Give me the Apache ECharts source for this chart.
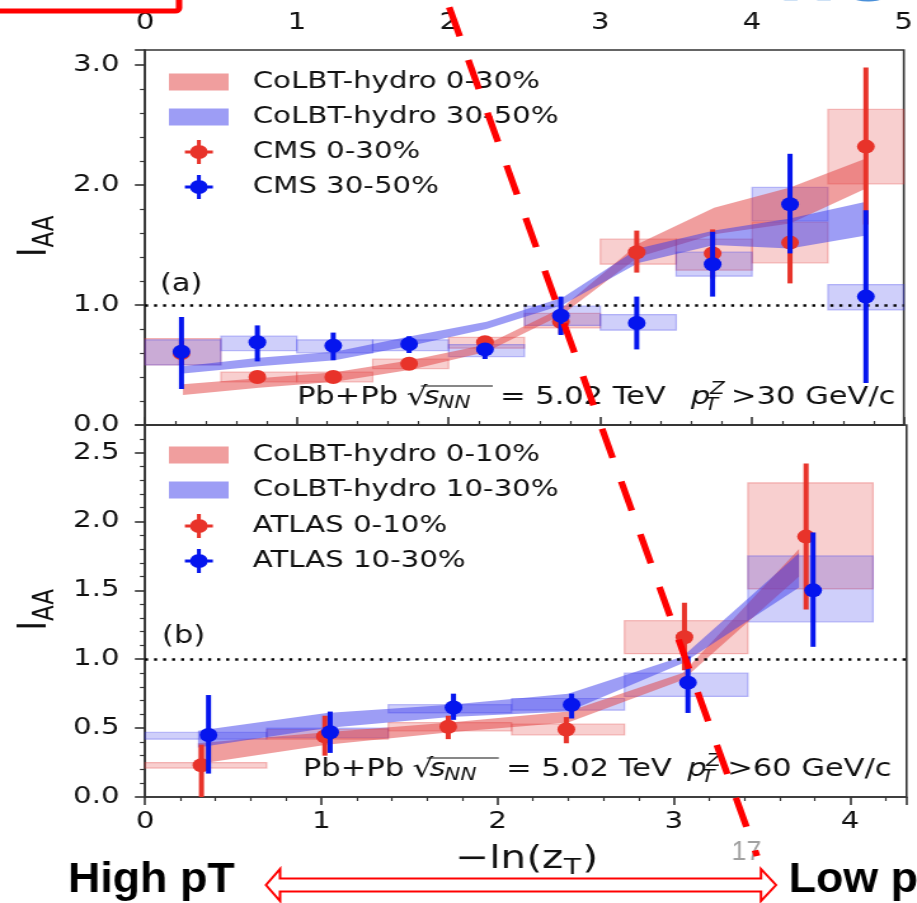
<!DOCTYPE html>
<html>
<head>
<meta charset="utf-8">
<script src="https://cdn.jsdelivr.net/npm/echarts@6.0.0/dist/echarts.min.js"></script>
<style>
  html, body { margin: 0; padding: 0; background: #fff; overflow: hidden; width: 917px; height: 903px; }
  /* the figure is laid out in narrower units and widened as a whole */
  #chart { width: 722px; height: 903px; transform: scaleX(1.27); transform-origin: 0 0; }
</style>
</head>
<body>
<div id="chart"></div>
<script>
// ---------- panel (a): CMS, p_T^Z > 30 GeV/c (x = -ln(z_T)) ----------
const cmsBinEdges = [0, 0.5, 1, 1.5, 2, 2.5, 3, 3.5, 4, 4.5, 5];
const cmsX = [0.24, 0.74, 1.24, 1.74, 2.24, 2.74, 3.24, 3.74, 4.25, 4.75];

const cms030 = [0.60, 0.40, 0.40, 0.51, 0.69, 0.86, 1.44, 1.43, 1.52, 2.32];
const cms030StatLo = [0.50, 0.36, 0.36, 0.47, 0.64, 0.76, 1.27, 1.22, 1.18, 1.67];
const cms030StatHi = [0.70, 0.44, 0.44, 0.55, 0.74, 0.96, 1.62, 1.63, 1.63, 2.98];
const cms030SysLo = [0.50, 0.36, 0.36, 0.47, 0.64, 0.81, 1.34, 1.29, 1.35, 2.01];
const cms030SysHi = [0.72, 0.44, 0.44, 0.55, 0.73, 0.93, 1.55, 1.55, 1.69, 2.63];

const cms3050 = [0.61, 0.69, 0.66, 0.675, 0.63, 0.91, 0.85, 1.34, 1.84, 1.07];
const cms3050StatLo = [0.30, 0.53, 0.54, 0.60, 0.55, 0.75, 0.63, 1.07, 1.43, 0.35];
const cms3050StatHi = [0.90, 0.83, 0.77, 0.74, 0.68, 1.07, 1.07, 1.61, 2.26, 1.79];
const cms3050SysLo = [0.50, 0.62, 0.60, 0.62, 0.57, 0.83, 0.79, 1.24, 1.70, 0.96];
const cms3050SysHi = [0.71, 0.74, 0.71, 0.71, 0.67, 0.99, 0.92, 1.44, 1.98, 1.17];

const colbtXa = [0.25, 0.75, 1.25, 1.75, 2.25, 2.75, 3.25, 3.75, 4.25, 4.75];
const colbt030Lo = [0.25, 0.31, 0.36, 0.46, 0.61, 0.92, 1.40, 1.59, 1.68, 1.97];
const colbt030Hi = [0.34, 0.39, 0.44, 0.54, 0.67, 0.98, 1.51, 1.81, 1.98, 2.22];
const colbt3050Lo = [0.43, 0.49, 0.54, 0.66, 0.80, 1.00, 1.35, 1.50, 1.47, 1.58];
const colbt3050Hi = [0.49, 0.56, 0.61, 0.74, 0.86, 1.06, 1.47, 1.62, 1.72, 1.86];

// ---------- panel (b): ATLAS, p_T^Z > 60 GeV/c ----------
const atlasBinEdges = [0, 0.69, 1.38, 2.08, 2.72, 3.42, 4.13];

const atlasX010 = [0.32, 1.02, 1.72, 2.39, 3.06, 3.75];
const atlas010 = [0.23, 0.44, 0.51, 0.49, 1.16, 1.89];
const atlas010StatLo = [0.00, 0.30, 0.42, 0.39, 0.92, 1.36];
const atlas010StatHi = [0.38, 0.59, 0.59, 0.58, 1.41, 2.42];
const atlas010SysLo = [0.21, 0.42, 0.48, 0.45, 1.04, 1.51];
const atlas010SysHi = [0.25, 0.49, 0.54, 0.53, 1.28, 2.28];

const atlasX1030 = [0.36, 1.05, 1.75, 2.42, 3.08, 3.79];
const atlas1030 = [0.45, 0.47, 0.65, 0.67, 0.83, 1.50];
const atlas1030StatLo = [0.17, 0.32, 0.56, 0.57, 0.61, 1.09];
const atlas1030StatHi = [0.74, 0.62, 0.75, 0.75, 1.02, 1.92];
const atlas1030SysLo = [0.42, 0.43, 0.61, 0.63, 0.73, 1.27];
const atlas1030SysHi = [0.47, 0.50, 0.67, 0.715, 0.90, 1.75];

const colbtXb = [0.30, 1.03, 1.73, 2.40, 3.05, 3.71];
const colbt010Lo = [0.24, 0.38, 0.47, 0.54, 0.85, 1.60];
const colbt010Hi = [0.39, 0.47, 0.54, 0.62, 0.90, 1.80];
const colbt1030Lo = [0.36, 0.50, 0.58, 0.62, 0.97, 1.52];
const colbt1030Hi = [0.48, 0.61, 0.67, 0.75, 1.02, 1.77];

// axis tick labels
const xTicksTop = ['0', '1', '2', '3', '4', '5'];
const xTicksBottom = ['0', '1', '2', '3', '4'];
const yTicksTop = ['0.0', '1.0', '2.0', '3.0'];
const yTicksBottom = ['0.0', '0.5', '1.0', '1.5', '2.0', '2.5'];

// ---------- styling ----------
const FONT = 'DejaVu Sans';
const SLIDE_FONT = '"Liberation Sans Narrow", "Liberation Sans", sans-serif';
const AXIS = '#333';
const INK = '#111';
const RED = '#e8332a';
const BLUE = '#0515ee';
const RED_BAND = 'rgba(226,62,62,0.5)';
const BLUE_BAND = 'rgba(60,60,236,0.5)';
const RED_BOX = 'rgba(226,62,62,0.25)';
const RED_BOX_EDGE = 'rgba(226,62,62,0.32)';
const BLUE_BOX = 'rgba(62,62,236,0.25)';
const BLUE_BOX_EDGE = 'rgba(62,62,236,0.32)';
const ERR_ICON = 'path://M0,10.5H22V13.5H0Z M9.5,0H12.5V24H9.5Z M18,12A7,7,0,1,1,4,12A7,7,0,1,1,18,12Z';

// label only values that sit on a tick step
function tickLabel(labels, step) {
  return v => {
    const k = v / step;
    return Math.abs(k - Math.round(k)) < 1e-6 ? (labels[Math.round(k)] || '') : '';
  };
}

function boxes(name, edges, lo, hi, fill, stroke, axis) {
  return {
    type: 'custom', name, xAxisIndex: axis, yAxisIndex: axis, z: 1, silent: true,
    data: lo.map((v, i) => [edges[i], edges[i + 1], v, hi[i]]),
    encode: { x: [0, 1], y: [2, 3] },
    renderItem(params, api) {
      const a = api.coord([api.value(0), api.value(3)]);
      const b = api.coord([api.value(1), api.value(2)]);
      return {
        type: 'rect',
        shape: { x: a[0], y: a[1], width: b[0] - a[0], height: b[1] - a[1] },
        style: { fill, stroke, lineWidth: 1.2 }
      };
    }
  };
}

function band(name, xs, lo, hi, fill, axis) {
  return {
    type: 'custom', name, xAxisIndex: axis, yAxisIndex: axis, z: 2, silent: true,
    itemStyle: { color: fill },
    data: xs.map((x, i) => [x, lo[i], hi[i]]),
    encode: { x: 0, y: [1, 2] },
    renderItem(params, api) {
      if (params.dataIndex !== 0) return null;
      const pts = [];
      for (let i = 0; i < xs.length; i++) pts.push(api.coord([xs[i], hi[i]]));
      for (let i = xs.length - 1; i >= 0; i--) pts.push(api.coord([xs[i], lo[i]]));
      return { type: 'polygon', shape: { points: pts }, style: { fill } };
    }
  };
}

function errBars(name, xs, lo, hi, color, axis, z) {
  return {
    type: 'custom', name, xAxisIndex: axis, yAxisIndex: axis, z, silent: true,
    data: xs.map((x, i) => [x, lo[i], hi[i]]),
    encode: { x: 0, y: [1, 2] },
    renderItem(params, api) {
      const a = api.coord([api.value(0), api.value(1)]);
      const b = api.coord([api.value(0), api.value(2)]);
      return { type: 'line', shape: { x1: a[0], y1: a[1], x2: b[0], y2: b[1] }, style: { stroke: color, lineWidth: 4 } };
    }
  };
}

function points(name, xs, ys, color, axis, z, withUnityLine) {
  const s = {
    type: 'scatter', name, xAxisIndex: axis, yAxisIndex: axis, z, silent: true,
    symbol: 'circle', symbolSize: 14,
    itemStyle: { color, opacity: 1 },
    data: xs.map((x, i) => [x, ys[i]])
  };
  if (withUnityLine) {
    s.markLine = {
      silent: true, symbol: ['none', 'none'], label: { show: false },
      lineStyle: { color: '#000', width: 2.5, type: [2.4, 4.7] },
      data: [{ yAxis: 1 }]
    };
  }
  return s;
}

const axisLine = { show: true, lineStyle: { color: AXIS, width: 1.6 } };
const axisTick = { show: true, inside: false, length: 8, lineStyle: { color: AXIS, width: 1.6 } };
const minorTick = { show: true, splitNumber: 5, length: 4, lineStyle: { color: AXIS, width: 1.2 } };
const tickFont = { fontFamily: FONT, fontSize: 23, color: INK };

function legendText(pad) {
  return { fontFamily: FONT, fontSize: 23, color: INK, lineHeight: 24, padding: [0, 0, 0, pad] };
}

// small helpers for free text
function txt(x, y, text, extra, scaleX) {
  return {
    type: 'text', x, y, z: 50, silent: true, scaleX: scaleX || 1,
    style: Object.assign({ text, fill: INK, fontFamily: FONT, fontSize: 24, align: 'left', verticalAlign: 'middle' }, extra || {})
  };
}
function energyLabel(y, xs, cut) {
  // xs: positions of the pieces of "Pb+Pb √sNN = 5.02 TeV  pT^Z>cut GeV/c"
  return [
    txt(xs[0], y, 'Pb+Pb'),
    txt(xs[1], y, '√', { fontSize: 26 }),
    txt(xs[2], y, 's', { fontStyle: 'italic' }),
    txt(xs[3], y + 6, 'NN', { fontStyle: 'italic', fontSize: 17 }),
    { type: 'line', z: 50, silent: true, shape: { x1: xs[2] - 2, y1: y - 12, x2: xs[3] + 43, y2: y - 12 }, style: { stroke: INK, lineWidth: 1.2 } },
    txt(xs[4], y, '= 5.02 TeV'),
    txt(xs[5], y, 'p', { fontStyle: 'italic' }),
    txt(xs[6], y + 8, 'T', { fontStyle: 'italic', fontSize: 17 }),
    txt(xs[7], y - 8, 'Z', { fontStyle: 'italic', fontSize: 17 }),
    txt(xs[8], y, '>' + cut + ' GeV/c')
  ];
}
function yTitle(x, y) {
  return {
    type: 'group', x, y, rotation: Math.PI / 2, z: 50, silent: true,
    children: [
      { type: 'text', x: 0, y: 0, style: { text: 'I', fill: INK, fontFamily: FONT, fontSize: 32, align: 'left', verticalAlign: 'middle' } },
      { type: 'text', x: 9.5, y: 8.6, style: { text: 'AA', fill: INK, fontFamily: FONT, fontSize: 23, align: 'left', verticalAlign: 'middle' } }
    ]
  };
}

const chart = echarts.init(document.getElementById('chart'));

const option = {
  animation: false,
  backgroundColor: '#fff',
  grid: [
    { left: 114.2, top: 50, width: 599.6, height: 375, show: true, borderColor: AXIS, borderWidth: 1.6, backgroundColor: 'transparent' },
    { left: 114.2, top: 425, width: 599.6, height: 372, show: true, borderColor: AXIS, borderWidth: 1.6, backgroundColor: 'transparent' }
  ],
  xAxis: [
    {
      gridIndex: 0, type: 'value', position: 'top', min: 0, max: 5, interval: 1,
      axisLine, axisTick, minorTick, splitLine: { show: false },
      axisLabel: Object.assign({ margin: 15, formatter: tickLabel(xTicksTop, 1) }, tickFont)
    },
    {
      gridIndex: 1, type: 'value', position: 'bottom', min: 0, max: 4.32, interval: 1,
      axisLine, axisTick, minorTick, splitLine: { show: false },
      axisLabel: Object.assign({ margin: 14, showMaxLabel: false, formatter: tickLabel(xTicksBottom, 1) }, tickFont)
    }
  ],
  yAxis: [
    {
      gridIndex: 0, type: 'value', min: 0, max: 3.125, interval: 1,
      axisLine, axisTick, minorTick, splitLine: { show: false },
      axisLabel: Object.assign({ margin: 20, formatter: tickLabel(yTicksTop, 1) }, tickFont)
    },
    {
      gridIndex: 1, type: 'value', min: 0, max: 2.7, interval: 0.5,
      axisLine, axisTick, minorTick, splitLine: { show: false },
      axisLabel: Object.assign({ margin: 20, showMaxLabel: false, formatter: tickLabel(yTicksBottom, 0.5) }, tickFont)
    }
  ],
  legend: [
    {
      orient: 'vertical', left: 133, top: 70, itemWidth: 47, itemHeight: 17, itemGap: 11, padding: 0,
      selectedMode: false, textStyle: legendText(14),
      data: [{ name: 'CoLBT-hydro 0-30%', icon: 'rect' }, { name: 'CoLBT-hydro 30-50%', icon: 'rect' }]
    },
    {
      orient: 'vertical', left: 145.6, top: 140, itemWidth: 22, itemHeight: 24, itemGap: 11, padding: 0,
      selectedMode: false, textStyle: legendText(26.4),
      data: [{ name: 'CMS 0-30%', icon: ERR_ICON }, { name: 'CMS 30-50%', icon: ERR_ICON }]
    },
    {
      orient: 'vertical', left: 133, top: 443, itemWidth: 47, itemHeight: 17, itemGap: 11, padding: 0,
      selectedMode: false, textStyle: legendText(14),
      data: [{ name: 'CoLBT-hydro 0-10%', icon: 'rect' }, { name: 'CoLBT-hydro 10-30%', icon: 'rect' }]
    },
    {
      orient: 'vertical', left: 145.6, top: 514, itemWidth: 22, itemHeight: 24, itemGap: 11, padding: 0,
      selectedMode: false, textStyle: legendText(26.4),
      data: [{ name: 'ATLAS 0-10%', icon: ERR_ICON }, { name: 'ATLAS 10-30%', icon: ERR_ICON }]
    }
  ],
  series: [
    // panel (a)
    boxes('CMS 0-30% syst', cmsBinEdges, cms030SysLo, cms030SysHi, RED_BOX, RED_BOX_EDGE, 0),
    boxes('CMS 30-50% syst', cmsBinEdges, cms3050SysLo, cms3050SysHi, BLUE_BOX, BLUE_BOX_EDGE, 0),
    band('CoLBT-hydro 0-30%', colbtXa, colbt030Lo, colbt030Hi, RED_BAND, 0),
    band('CoLBT-hydro 30-50%', colbtXa, colbt3050Lo, colbt3050Hi, BLUE_BAND, 0),
    errBars('CMS 0-30% stat', cmsX, cms030StatLo, cms030StatHi, RED, 0, 3),
    points('CMS 0-30%', cmsX, cms030, RED, 0, 4, true),
    errBars('CMS 30-50% stat', cmsX, cms3050StatLo, cms3050StatHi, BLUE, 0, 5),
    points('CMS 30-50%', cmsX, cms3050, BLUE, 0, 6, false),
    // panel (b)
    boxes('ATLAS 0-10% syst', atlasBinEdges, atlas010SysLo, atlas010SysHi, RED_BOX, RED_BOX_EDGE, 1),
    boxes('ATLAS 10-30% syst', atlasBinEdges, atlas1030SysLo, atlas1030SysHi, BLUE_BOX, BLUE_BOX_EDGE, 1),
    band('CoLBT-hydro 0-10%', colbtXb, colbt010Lo, colbt010Hi, RED_BAND, 1),
    band('CoLBT-hydro 10-30%', colbtXb, colbt1030Lo, colbt1030Hi, BLUE_BAND, 1),
    errBars('ATLAS 0-10% stat', atlasX010, atlas010StatLo, atlas010StatHi, RED, 1, 3),
    points('ATLAS 0-10%', atlasX010, atlas010, RED, 1, 4, true),
    errBars('ATLAS 10-30% stat', atlasX1030, atlas1030StatLo, atlas1030StatHi, BLUE, 1, 5),
    points('ATLAS 10-30%', atlasX1030, atlas1030, BLUE, 1, 6, false)
  ],
  graphic: [].concat(
    [
      txt(126, 285, '(a)'),
      txt(127.6, 637, '(b)'),
      yTitle(27.6, 257),
      yTitle(27.6, 630.5),
      // x-axis title -ln(z_T)
      txt(358.4, 860, '−ln(z', { fontSize: 32 }),
      txt(443.9, 868, 'T', { fontSize: 22 }),
      txt(458.5, 860, ')', { fontSize: 32 })
    ],
    energyLabel(398, [233.9, 320.0, 333.5, 345.0, 393.7, 544.1, 555.1, 559.0, 575.6], 30),
    energyLabel(770, [238.6, 324.7, 338.2, 349.7, 398.4, 541.2, 552.2, 556.1, 572.7], 60),
    [
      // slide decorations
      { type: 'rect', z: 90, silent: true, shape: { x: -10, y: -10, width: 151, height: 21, r: 3 },
        style: { fill: 'none', stroke: '#ff0000', lineWidth: 5 } },
      txt(576.5, -15, 'LHC', { fontSize: 56, fontWeight: 'bold', fill: '#4a90d9' }),
      txt(53.5, 880, 'High pT', { fontFamily: SLIDE_FONT, fontSize: 42, fontWeight: 'bold', fill: '#000' }, 0.84),
      txt(621, 880, 'Low pT', { fontFamily: SLIDE_FONT, fontSize: 42, fontWeight: 'bold', fill: '#000' }, 0.84),
      txt(576, 852, '17', { fontFamily: SLIDE_FONT, fontSize: 28, fill: '#a0a0a0' }, 0.75),
      { type: 'polygon', z: 90, silent: true,
        shape: { points: [[209.4, 885], [220.5, 869], [220.5, 878.5], [599.2, 878.5], [599.2, 869], [611, 885],
                          [599.2, 901], [599.2, 891.5], [220.5, 891.5], [220.5, 901]] },
        style: { fill: '#fff', stroke: '#ff0000', lineWidth: 2 } },
      { type: 'line', z: 95, silent: true, shape: { x1: 353.7, y1: 7.3, x2: 596.1, y2: 856 },
        style: { stroke: '#ff0000', lineWidth: 5.3, lineDash: [30.2, 24.6], lineCap: 'butt' } }
    ]
  )
};

chart.setOption(option);
</script>
</body>
</html>
